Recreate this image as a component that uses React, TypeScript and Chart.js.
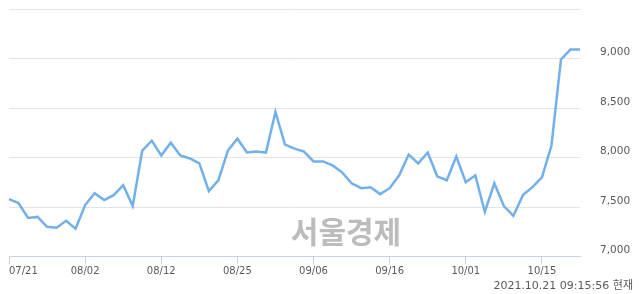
import React, { useEffect, useRef } from "react";
import { Chart, registerables } from "chart.js";

Chart.register(...registerables);

const dates: string[] = [
  "07/21", "07/22", "07/23", "07/26", "07/27", "07/28", "07/29", "07/30",
  "08/02", "08/03", "08/04", "08/05", "08/06", "08/09", "08/10", "08/11",
  "08/12", "08/13", "08/17", "08/18", "08/19", "08/20", "08/23", "08/24",
  "08/25", "08/26", "08/27", "08/30", "08/31", "09/01", "09/02", "09/03",
  "09/06", "09/07", "09/08", "09/09", "09/10", "09/13", "09/14", "09/15",
  "09/16", "09/17", "09/23", "09/24", "09/27", "09/28", "09/29", "09/30",
  "10/01", "10/05", "10/06", "10/07", "10/08", "10/12", "10/13", "10/14",
  "10/15", "10/18", "10/19", "10/20", "10/21",
];

const prices: number[] = [
  7580, 7540, 7390, 7400, 7300, 7290, 7360, 7280,
  7520, 7640, 7570, 7620, 7720, 7510, 8070, 8170,
  8020, 8150, 8020, 7990, 7940, 7660, 7770, 8070,
  8190, 8050, 8060, 8050, 8460, 8130, 8090, 8060,
  7960, 7960, 7920, 7850, 7740, 7690, 7700, 7630,
  7690, 7820, 8030, 7940, 8050, 7810, 7770, 8010,
  7750, 7820, 7450, 7740, 7510, 7410, 7620, 7700,
  7800, 8120, 8990, 9090, 9090,
];

const tickEvery = 8;
const yMin = 7000;
const yMax = 9500;
const yStep = 500;
const timestamp = "2021.10.21 09:15:56 현재";
const watermark = "서울경제";

const TEXT_COLOR = "#5a5a5a";
const AXIS_COLOR = "#c6d4ea";
const GRID_COLOR = "#e4e4e4";
const LINE_COLOR = "#72b0ea";

export default function App() {
  const canvasRef = useRef<HTMLCanvasElement | null>(null);

  useEffect(() => {
    document.body.style.margin = "0";
    const canvas = canvasRef.current;
    if (!canvas) return;

    const overlay = {
      id: "overlay",
      beforeDatasetsDraw(chart: any) {
        const { ctx, chartArea } = chart;
        ctx.save();
        ctx.font = "bold 30px 'Noto Sans CJK KR', sans-serif";
        ctx.fillStyle = "#bcbcbc";
        ctx.textAlign = "center";
        ctx.textBaseline = "middle";
        ctx.fillText(watermark, 346, chartArea.bottom - 25);
        ctx.restore();
      },
      afterDraw(chart: any) {
        const { ctx, chartArea } = chart;
        const xs = chart.scales.x;
        ctx.save();
        ctx.font = "10px 'DejaVu Sans', sans-serif";
        ctx.fillStyle = TEXT_COLOR;
        ctx.textBaseline = "middle";
        dates.forEach((d, i) => {
          if (i % tickEvery !== 0) return;
          const px = xs.getPixelForValue(i);
          ctx.textAlign = i === 0 ? "left" : "center";
          ctx.fillText(d, px, chartArea.bottom + 15);
        });
        ctx.font = "11px 'DejaVu Sans', 'Noto Sans CJK KR', sans-serif";
        ctx.textAlign = "right";
        ctx.fillText(timestamp, 633, 286);
        ctx.restore();
      },
    };

    const chart = new Chart(canvas, {
      type: "line",
      data: {
        labels: dates,
        datasets: [
          {
            data: prices,
            borderColor: LINE_COLOR,
            borderWidth: 2.5,
            pointRadius: 0,
            pointHoverRadius: 0,
            tension: 0,
            fill: false,
          },
        ],
      },
      options: {
        animation: false,
        responsive: true,
        maintainAspectRatio: false,
        layout: { padding: { top: 9, left: 9, right: 0, bottom: 0 } },
        plugins: {
          legend: { display: false },
          tooltip: { enabled: false },
        },
        scales: {
          x: {
            type: "category",
            offset: false,
            afterFit(scale: any) {
              scale.height = 37.5;
            },
            border: { display: true, color: AXIS_COLOR, width: 1 },
            grid: {
              display: true,
              drawOnChartArea: false,
              drawTicks: true,
              tickLength: 8,
              color: (c: any) => (c.index % tickEvery === 0 ? AXIS_COLOR : "rgba(0,0,0,0)"),
            },
            ticks: { display: false, autoSkip: false },
          },
          y: {
            position: "right",
            min: yMin,
            max: yMax,
            afterFit(scale: any) {
              scale.width = 60;
            },
            border: { display: false },
            grid: {
              drawTicks: true,
              tickLength: 20,
              tickColor: "rgba(0,0,0,0)",
              color: (c: any) => (c.tick && c.tick.value === yMin ? "rgba(0,0,0,0)" : GRID_COLOR),
            },
            ticks: {
              stepSize: yStep,
              padding: 0,
              labelOffset: -6,
              color: TEXT_COLOR,
              font: { family: "'DejaVu Sans', sans-serif", size: 10.5 },
              callback: (v: any) => (Number(v) === yMax ? "" : Number(v).toLocaleString("en-US")),
            },
          },
        },
      },
      plugins: [overlay],
    });

    return () => chart.destroy();
  }, []);

  return (
    <div style={{ width: 640, height: 294, position: "relative", background: "#fff" }}>
      <canvas ref={canvasRef} />
    </div>
  );
}
